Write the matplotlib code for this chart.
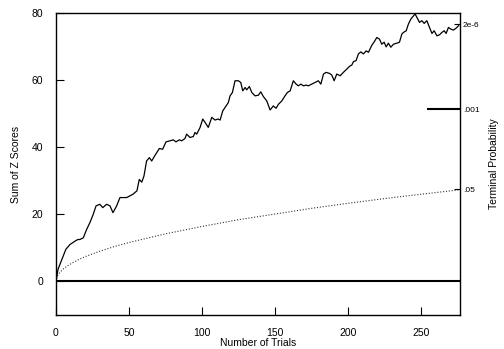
import matplotlib
matplotlib.use("Agg")
import matplotlib.pyplot as plt

plt.rcParams['font.family'] = ['Liberation Sans', 'DejaVu Sans']

# Cumulative sum of Z scores
trials = [0, 1.4, 5, 6.8, 9.6, 13, 15, 16.4, 18.7, 21, 23.3, 25.5, 27.4, 30, 32, 34.7, 37, 39,
          41.5, 43.8, 48.4, 52.7, 55.4, 57, 58.7, 60.2, 62, 63.9, 65.5, 67.8, 70.7, 73, 75.3,
          78, 80.3, 82.1, 84.4, 86, 88.3, 89.4, 91.7, 94, 95.1, 96.3, 98.6, 100.4, 102, 104.2,
          106.6, 108.8, 111, 112.3, 114.1, 116.4, 117.9, 119.1, 120.7, 122.5, 124.8, 126.4,
          127.8, 129.4, 130.5, 132.3, 134, 136.2, 138.5, 140.1, 141.9, 144.2, 146.5, 148.7,
          150.6, 152.2, 154.5, 156.7, 158.3, 160.2, 162.4, 164.3, 165.8, 167.5, 169.3, 171.1,
          172.7, 175, 177.3, 179.5, 181.2, 183, 184.8, 187.1, 188.7, 190.3, 192.1, 194.4,
          196.6, 199, 200.8, 202.4, 203.5, 205.3, 206.9, 208.6, 210.3, 212.2, 213.8, 216.1,
          217.7, 219.5, 221.3, 222.9, 224.5, 225.9, 227.4, 229.1, 230.9, 233.2, 235, 236.6,
          237.7, 239.6, 241.1, 242.8, 244.1, 245.7, 246.9, 248.7, 250.3, 251.9, 253.7, 255.5,
          257.2, 258.7, 260.6, 262.4, 264, 265.6, 266.9, 268.5, 270.1, 271.9, 273.8, 275.4]
z_sum = [0, 3.6, 7.6, 9.6, 11, 12, 12.5, 12.5, 13, 15.5, 17.6, 20, 22.5, 23, 22, 23, 22.5, 20.5,
         22.5, 25, 25, 26, 27, 30.4, 29.6, 31.4, 35.9, 36.9, 35.9, 37.6, 39.6, 39.4, 41.6,
         41.9, 42.2, 41.6, 42.2, 41.9, 42.6, 43.9, 42.9, 43.2, 44.4, 43.9, 45.9, 48.4, 47.4,
         45.9, 48.9, 48.1, 48.4, 48.1, 50.8, 52.3, 53.3, 55.3, 56.3, 59.8, 59.8, 59.3, 56.8,
         57.8, 57.1, 58.1, 56.3, 55.3, 55.5, 56.5, 55.1, 53.8, 51.1, 52.3, 51.6, 52.8, 53.8,
         55.3, 56.3, 56.8, 59.8, 58.8, 58.3, 58.8, 58.3, 58.5, 58.3, 58.8, 59.3, 59.8, 58.8,
         61.8, 62.3, 62, 61.5, 59.8, 61.8, 61.3, 62.3, 63.3, 64.1, 64.5, 65.5, 65.8, 67.8,
         68.4, 67.8, 68.7, 68.3, 70.4, 71.4, 72.7, 72.2, 70.7, 71.3, 69.9, 71, 69.8, 70.7, 71,
         71.3, 73.7, 74.2, 74.7, 76.7, 78.2, 78.9, 79.7, 78.7, 77.2, 77.7, 76.9, 77.7, 75.7,
         73.9, 74.7, 73.2, 73.5, 74.2, 74.7, 73.9, 75.7, 75.2, 74.9, 75.5, 76.2]

# p = .05 criterion curve (dotted)
crit_trials = [0, 1, 2, 3, 5, 7, 10, 15, 20, 30, 40, 50, 75, 100, 125, 150, 175, 200, 225, 250, 276]
crit_sum = [0, 1.6, 2.3, 2.8, 3.7, 4.4, 5.2, 6.4, 7.4, 9.0, 10.4, 11.6, 14.2, 16.4, 18.4, 20.1,
            21.8, 23.3, 24.7, 26.0, 27.3]

x_ticks = [0, 50, 100, 150, 200, 250]
y_ticks = [0, 20, 40, 60, 80]
prob_labels = ['.05', '.001', '2e-6']
prob_levels = [27.4, 51.3, 76.6]

fig = plt.figure(figsize=(5.04, 3.49), dpi=100)
ax = fig.add_axes([0.111, 0.0974, 0.802, 0.8654])

ax.axhline(0, color='black', lw=1.5)
ax.plot(crit_trials, crit_sum, color='#333333', lw=0.8, linestyle=(0, (1, 1.6)))
ax.plot(trials, z_sum, color='black', lw=0.9)

ax.set_xlim(0, 276.5)
ax.set_ylim(-10, 80)
ax.set_xticks(x_ticks)
ax.set_yticks(y_ticks)
ax.tick_params(axis='both', direction='in', length=6, width=0.8, labelsize=7.5, pad=9,
               color='black')
ax.tick_params(axis='x', pad=9)
for s in ax.spines.values():
    s.set_linewidth(1.0)
    s.set_color('black')

ax.set_xlabel('Number of Trials', fontsize=7.5, labelpad=0)
ax.set_ylabel('Sum of Z Scores', fontsize=7.5, labelpad=8)

ax2 = ax.twinx()
ax2.set_ylim(ax.get_ylim())
ax2.set_yticks(prob_levels)
ax2.set_yticklabels(prob_labels)
ax2.tick_params(axis='y', direction='in', length=4, width=0.8, labelsize=6, pad=2)
for i, t in enumerate(ax2.yaxis.get_major_ticks()):
    if prob_labels[i] == '.001':
        t.tick2line.set_markersize(24)
        t.tick2line.set_markeredgewidth(1.5)
for s in ax2.spines.values():
    s.set_visible(False)
ax2.set_ylabel('Terminal Probability', fontsize=7.5, labelpad=7)

fig.savefig('out.png', dpi=100)
